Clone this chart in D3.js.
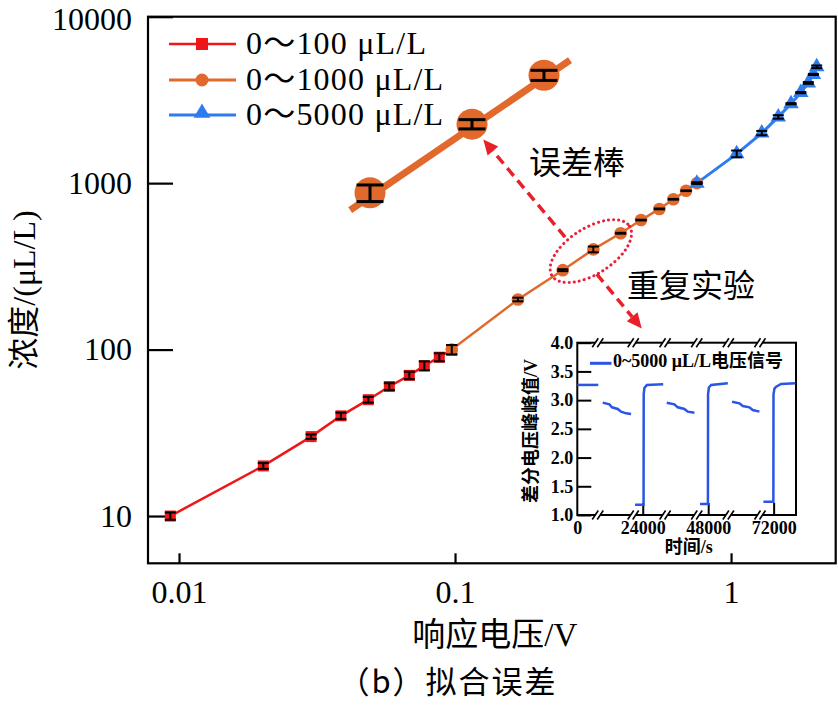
<!DOCTYPE html>
<html><head><meta charset="utf-8">
<script src="https://cdn.jsdelivr.net/npm/d3@7/dist/d3.min.js"></script>
<style>body{margin:0;background:#fff} svg{display:block}</style>
</head><body>
<script>
// ---------------- data ----------------
const seriesNames = ["0～100 μL/L", "0～1000 μL/L", "0～5000 μL/L"];
const redX = [0.0093, 0.0202, 0.0301, 0.0386, 0.0485, 0.0578, 0.0683, 0.0774, 0.0877, 0.0973];
const redY = [10, 20, 30, 40, 50, 60, 70, 80, 90, 100];
const redErr = [0.5, 0.8, 0.9, 1.8, 2.0, 2.8, 3.6, 5.0, 5.0, 6.5];
const orangeX = [0.0973, 0.169, 0.2456, 0.317, 0.398, 0.472, 0.550, 0.618, 0.687, 0.752];
const orangeY = [100, 200, 300, 400, 500, 600, 700, 800, 900, 1000];
const orangeErr = [6.5, 5, 4, 16, 3, 3, 4, 4, 4, 6];
const blueX = [0.752, 1.048, 1.292, 1.483, 1.649, 1.789, 1.905, 1.987, 2.043];
const blueY = [1000, 1500, 2000, 2500, 3000, 3500, 4000, 4500, 5000];
const blueErr = [12, 70, 60, 60, 25, 30, 50, 35, 90];

// magnified error-bar illustration
const magLineX = [0.0417, 0.261];
const magLineY = [688.6, 5480];
const magX = [0.0492, 0.1152, 0.2100];
const magY = [875, 2262, 4452];
const magErr = [100, 145, 310];

const xTicks = [0.01, 0.1, 1];
const xTickLabels = ["0.01", "0.1", "1"];
const yTicks = [10, 100, 1000, 10000];
const yTickLabels = ["10", "100", "1000", "10000"];

// annotations (data coordinates)
const arrowFrom = [[0.2504, 474], [0.3262, 284.1]];
const arrowTo = [[0.1266, 1830], [0.4747, 134.1]];
const ellipseCenter = [0.3105, 390.5];
const noteTexts = ["误差棒", "重复实验"];
const notePos = [[0.2767, 1337], [0.716, 243.9]];

// inset data
const insetYTicks = [1.0, 1.5, 2.0, 2.5, 3.0, 3.5, 4.0];
const insetXTicks = [0, 24000, 48000, 72000];
const insetXTickLabels = ["0", "24000", "48000", "72000"];
const insetBreaks = [7500, 20500, 32200, 43800, 55400, 67000];
const insetLegend = "0~5000 μL/L电压信号";
const signalSegments = [
  [[0, 3.265], [7700, 3.265]],
  [[9320, 2.956], [11760, 2.927], [12730, 2.875], [14810, 2.846], [16040, 2.799], [17870, 2.770], [19710, 2.759]],
  [[21200, 1.18], [24300, 1.18], [24350, 3.10], [24600, 3.21], [25500, 3.262], [31500, 3.275]],
  [[32800, 2.956], [35610, 2.927], [36830, 2.875], [39280, 2.846], [40500, 2.799], [42950, 2.781]],
  [[45000, 1.19], [47900, 1.19], [47950, 3.10], [48250, 3.22], [49100, 3.264], [55200, 3.293]],
  [[56770, 2.973], [59460, 2.944], [60680, 2.898], [63130, 2.875], [64350, 2.828], [66800, 2.800]],
  [[68250, 1.232], [71900, 1.232], [71950, 3.10], [72300, 3.20], [72920, 3.235], [74750, 3.281], [80000, 3.293]]
];

// ---------------- drawing ----------------
const W = 838, H = 705;
const RED = "#ee1616", ORANGE = "#e2692c", BLUE = "#2f7bf0", SIG = "#2a55e6", ANN = "#e8202a";
const SERIF = "'Liberation Serif','Times New Roman','Noto Sans CJK SC',serif";
const CJK = "'Noto Sans CJK SC','Liberation Serif',sans-serif";

const svg = d3.select("body").append("svg").attr("width", W).attr("height", H);

const L = 148, R = 835.7, T = 16.7, B = 563.3;
const x = d3.scaleLog().domain([0.00772, 2.394]).range([L, R]);
const y = d3.scaleLog().domain([5.2, 10000]).range([B, T]);

// axes
const gx = svg.append("g").attr("transform", `translate(0,${B})`)
  .call(d3.axisBottom(x).tickValues(xTicks).tickFormat((d, i) => xTickLabels[i]).tickSizeInner(-10).tickSizeOuter(0).tickPadding(17));
const gy = svg.append("g").attr("transform", `translate(${L},0)`)
  .call(d3.axisLeft(y).tickValues(yTicks).tickFormat((d, i) => yTickLabels[i]).tickSizeInner(-25).tickSizeOuter(0).tickPadding(16));
[gx, gy].forEach(g => {
  g.select(".domain").remove();
  g.selectAll("line").attr("stroke", "#000").attr("stroke-width", 2.2);
  g.selectAll("text").attr("font-family", SERIF).attr("font-size", 32).attr("fill", "#000");
});
gx.selectAll("text").attr("dy", "0.71em");
gy.selectAll(".tick").filter(d => d === 10000).select("text").attr("dy", "0.4em");

svg.append("rect").attr("x", L).attr("y", T).attr("width", R - L).attr("height", B - T)
  .attr("fill", "none").attr("stroke", "#000").attr("stroke-width", 2.2);

// axis titles
svg.append("text").attr("x", (L + R) / 2 + 3).attr("y", 646).attr("text-anchor", "middle")
  .attr("font-family", SERIF).attr("font-size", 33).text("响应电压/V");
svg.append("text").attr("transform", "translate(35,290) rotate(-90)").attr("text-anchor", "middle")
  .attr("font-family", SERIF).attr("font-size", 32).text("浓度/(μL/L)");
svg.append("text").attr("x", 448).attr("y", 693).attr("text-anchor", "middle")
  .attr("font-family", CJK).attr("font-size", 31).attr("letter-spacing", "2px").text("（b）拟合误差");

const plot = svg.append("g");
const line = d3.line().x(d => x(d[0])).y(d => y(d[1]));
const zip = (a, b) => a.map((v, i) => [v, b[i]]);

// magnified illustration
plot.append("path").attr("d", line(zip(magLineX, magLineY))).attr("fill", "none")
  .attr("stroke", ORANGE).attr("stroke-width", 7);
plot.selectAll(".mag").data(zip(magX, magY)).join("circle")
  .attr("cx", d => x(d[0])).attr("cy", d => y(d[1])).attr("r", 15.5).attr("fill", ORANGE);

function errorBars(xs, ys, es, cap, sw) {
  const g = plot.append("g").attr("stroke", "#000").attr("stroke-width", sw);
  xs.forEach((xv, i) => {
    const cx = x(xv), y1 = y(ys[i] + es[i]), y0 = y(ys[i] - es[i]);
    g.append("line").attr("x1", cx).attr("x2", cx).attr("y1", y1).attr("y2", y0);
    g.append("line").attr("x1", cx - cap).attr("x2", cx + cap).attr("y1", y1).attr("y2", y1);
    g.append("line").attr("x1", cx - cap).attr("x2", cx + cap).attr("y1", y0).attr("y2", y0);
  });
}
errorBars(magX, magY, magErr, 13.5, 3);

// series lines
plot.append("path").attr("d", line(zip(redX, redY))).attr("fill", "none").attr("stroke", RED).attr("stroke-width", 2.5);
plot.append("path").attr("d", line(zip(orangeX, orangeY))).attr("fill", "none").attr("stroke", ORANGE).attr("stroke-width", 2.5);
plot.append("path").attr("d", line(zip(blueX, blueY))).attr("fill", "none").attr("stroke", BLUE).attr("stroke-width", 3);

// markers
const sq = d3.symbol(d3.symbolSquare, 121)();
const tri = d3.symbol(d3.symbolTriangle, 105)();
plot.selectAll(".rm").data(zip(redX, redY)).join("path")
  .attr("d", sq).attr("transform", d => `translate(${x(d[0])},${y(d[1])})`).attr("fill", RED);
errorBars(redX, redY, redErr, 5.5, 2);
plot.selectAll(".om").data(zip(orangeX, orangeY)).join("circle")
  .attr("cx", d => x(d[0])).attr("cy", d => y(d[1])).attr("r", 6.3).attr("fill", ORANGE);
errorBars(orangeX, orangeY, orangeErr, 5.5, 2);
plot.selectAll(".bm").data(zip(blueX, blueY)).join("path")
  .attr("d", tri).attr("transform", d => `translate(${x(d[0])},${y(d[1])})`).attr("fill", BLUE);
errorBars(blueX, blueY, blueErr, 5.5, 2);

// legend
const legColors = [RED, ORANGE, BLUE];
const legY = [44, 80, 115];
seriesNames.forEach((name, i) => {
  const g = svg.append("g");
  g.append("line").attr("x1", 169).attr("x2", 236).attr("y1", legY[i]).attr("y2", legY[i])
    .attr("stroke", legColors[i]).attr("stroke-width", i === 0 ? 2.5 : 3);
  if (i === 0) g.append("path").attr("d", d3.symbol(d3.symbolSquare, 144)()).attr("transform", `translate(202,${legY[i]})`).attr("fill", RED);
  if (i === 1) g.append("circle").attr("cx", 202).attr("cy", legY[i]).attr("r", 6.5).attr("fill", ORANGE);
  if (i === 2) g.append("path").attr("d", d3.symbol(d3.symbolTriangle, 120)()).attr("transform", `translate(202,${legY[i] - 2})`).attr("fill", BLUE);
  g.append("text").attr("x", 246).attr("y", legY[i] + 10).attr("font-family", SERIF).attr("font-size", 32)
    .attr("letter-spacing", "1.2px").text(name);
});

// annotations
const ann = svg.append("g");
ann.append("ellipse").attr("cx", 0).attr("cy", 0).attr("rx", 46).attr("ry", 23)
  .attr("transform", () => {
    const a = Math.atan2(y(500) - y(300), x(orangeX[4]) - x(orangeX[2])) * 180 / Math.PI;
    return `translate(${x(ellipseCenter[0])},${y(ellipseCenter[1])}) rotate(${a})`;
  })
  .attr("fill", "none").attr("stroke", "#e8203c").attr("stroke-width", 3)
  .attr("stroke-dasharray", "0.1,5").attr("stroke-linecap", "round");
arrowFrom.forEach((f, i) => {
  const x0 = x(f[0]), y0 = y(f[1]), x1 = x(arrowTo[i][0]), y1 = y(arrowTo[i][1]);
  const ang = Math.atan2(y1 - y0, x1 - x0);
  const hl = 15, hw = 7;
  const bx = x1 - hl * Math.cos(ang), by = y1 - hl * Math.sin(ang);
  ann.append("line").attr("x1", x0).attr("y1", y0).attr("x2", bx).attr("y2", by)
    .attr("stroke", ANN).attr("stroke-width", 3.5).attr("stroke-dasharray", "10,6");
  const px = -Math.sin(ang), py = Math.cos(ang);
  ann.append("path").attr("d", `M${x1},${y1}L${bx + hw * px},${by + hw * py}L${bx - hw * px},${by - hw * py}Z`).attr("fill", ANN);
});
noteTexts.forEach((t, i) => {
  ann.append("text").attr("x", x(notePos[i][0])).attr("y", y(notePos[i][1])).attr("dy", "0.36em")
    .attr("text-anchor", "middle").attr("font-family", CJK).attr("font-size", 32).text(t);
});

// ---------------- inset ----------------
const iL = 577.3, iR = 796, iT = 342.7, iB = 515;
const xi = d3.scaleLinear().domain([0, 80200]).range([iL, iR]);
const yi = d3.scaleLinear().domain([1, 4]).range([iB, iT]);
const inset = svg.append("g");
inset.append("rect").attr("x", iL).attr("y", iT).attr("width", iR - iL).attr("height", iB - iT)
  .attr("fill", "#fff").attr("stroke", "#000").attr("stroke-width", 2);
const ga = inset.append("g").attr("transform", `translate(${iL},0)`)
  .call(d3.axisLeft(yi).tickValues(insetYTicks).tickFormat(d3.format(".1f")).tickSizeInner(-14).tickSizeOuter(0).tickPadding(4));
const gb = inset.append("g").attr("transform", `translate(0,${iB})`)
  .call(d3.axisBottom(xi).tickValues(insetXTicks).tickFormat((d, i) => insetXTickLabels[i]).tickSizeInner(-12).tickSizeOuter(0).tickPadding(6));
[ga, gb].forEach(g => {
  g.select(".domain").remove();
  g.selectAll("line").attr("stroke", "#000").attr("stroke-width", 2);
  g.selectAll("text").attr("font-family", SERIF).attr("font-size", 18).attr("font-weight", "bold").attr("fill", "#000");
});
gb.selectAll(".tick").filter(d => d === 0).select("line").remove();
gb.selectAll("text").attr("dy", "0.71em");

// break marks
[iT, iB].forEach(yy => {
  insetBreaks.forEach(t => {
    const cx = xi(t);
    inset.append("rect").attr("x", cx - 2.5).attr("y", yy - 1.5).attr("width", 5).attr("height", 3).attr("fill", "#fff");
    [-2.5, 2.5].forEach(o => {
      inset.append("line").attr("x1", cx + o - 3).attr("y1", yy + 4.5).attr("x2", cx + o + 3).attr("y2", yy - 4.5)
        .attr("stroke", "#000").attr("stroke-width", 1.6);
    });
  });
});

const sline = d3.line().x(d => xi(d[0])).y(d => yi(d[1]));
signalSegments.forEach(seg => {
  inset.append("path").attr("d", sline(seg)).attr("fill", "none").attr("stroke", SIG).attr("stroke-width", 2.5);
});

inset.append("line").attr("x1", 590).attr("x2", 611.5).attr("y1", 363.3).attr("y2", 363.3).attr("stroke", SIG).attr("stroke-width", 3);
inset.append("text").attr("x", 613).attr("y", 367).attr("font-family", SERIF).attr("font-size", 18).attr("font-weight", "bold").text(insetLegend);
inset.append("text").attr("x", (iL + iR) / 2 + 2).attr("y", 553).attr("text-anchor", "middle")
  .attr("font-family", SERIF).attr("font-size", 18).attr("font-weight", "bold").text("时间/s");
inset.append("text").attr("transform", `translate(537,431) rotate(-90)`).attr("text-anchor", "middle")
  .attr("font-family", SERIF).attr("font-size", 18).attr("font-weight", "bold").text("差分电压峰峰值/V");
</script>
</body></html>
